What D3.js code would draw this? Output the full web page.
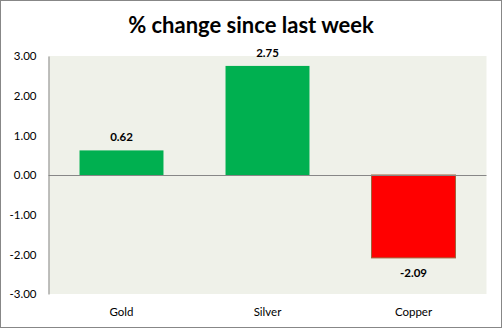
<!DOCTYPE html>
<html>
<head>
<meta charset="utf-8">
<script src="https://cdn.jsdelivr.net/npm/d3@7"></script>
<style>
  html, body { margin: 0; padding: 0; background: #fff; }
  svg { display: block; font-family: Lato, "Open Sans", sans-serif; }
</style>
</head>
<body>
<svg id="chart" width="502" height="328"></svg>
<script>
// Weekly percentage change per metal
const categories = ["Gold", "Silver", "Copper"];
const changes = [0.62, 2.75, -2.09];
const yTicks = [3, 2, 1, 0, -1, -2, -3];
const title = "% change since last week";

const W = 502, H = 328;
const plot = { left: 48.5, right: 486.5, top: 56, bottom: 294 };

// Two decimals with a plain hyphen for negatives
const fmt = d3.formatLocale({ decimal: ".", thousands: ",", grouping: [3], currency: ["", ""], minus: "-" }).format(".2f");

const svg = d3.select("#chart");

// Outer chart frame
svg.append("rect")
  .attr("x", 0.5).attr("y", 0.5)
  .attr("width", W - 1).attr("height", H - 1)
  .attr("fill", "#fff")
  .attr("stroke", "#878787");

// Title
svg.append("text")
  .attr("x", 251).attr("y", 33)
  .attr("text-anchor", "middle")
  .attr("font-size", 22)
  .attr("font-weight", "bold")
  .attr("fill", "#000")
  .text(title);

const x = d3.scaleBand()
  .domain(categories)
  .range([plot.left, plot.right])
  .paddingInner(0.425)
  .paddingOuter(0.2125);

const y = d3.scaleLinear()
  .domain([-3, 3])
  .range([plot.bottom, plot.top]);

// Plot area background
svg.append("rect")
  .attr("x", plot.left).attr("y", plot.top)
  .attr("width", plot.right - plot.left)
  .attr("height", plot.bottom - plot.top)
  .attr("fill", "#EFF1E9");

// Bars
svg.append("g").selectAll("rect")
  .data(categories.map((c, i) => ({ c, v: changes[i] })))
  .join("rect")
  .attr("x", d => x(d.c))
  .attr("width", x.bandwidth())
  .attr("y", d => y(Math.max(0, d.v)))
  .attr("height", d => Math.abs(y(d.v) - y(0)))
  .attr("fill", d => d.v >= 0 ? "#00B050" : "#FF0000")
  .attr("stroke", d => d.v >= 0 ? "none" : "#A0623A")
  .attr("stroke-width", 1);

// Y axis
const yAxis = d3.axisLeft(y)
  .tickValues(yTicks)
  .tickFormat(fmt)
  .tickSize(0)
  .tickPadding(12);

const gy = svg.append("g")
  .attr("transform", `translate(${plot.left},0)`)
  .call(yAxis);
gy.select(".domain").attr("stroke", "#878787");
gy.selectAll("text")
  .attr("font-family", "Lato, sans-serif")
  .attr("font-size", 11.5)
  .attr("fill", "#000");

// Zero baseline
svg.append("line")
  .attr("x1", plot.left).attr("x2", plot.right)
  .attr("y1", y(0) + 0.5).attr("y2", y(0) + 0.5)
  .attr("stroke", "#878787");

// Category labels
const xAxis = d3.axisBottom(x).tickSize(0).tickPadding(0);
const gx = svg.append("g")
  .attr("transform", `translate(0,${plot.bottom})`)
  .call(xAxis);
gx.select(".domain").remove();
gx.selectAll("text")
  .attr("font-family", "Lato, sans-serif")
  .attr("font-size", 11.5)
  .attr("fill", "#000")
  .attr("dy", null)
  .attr("y", 21.5);

// Value labels
svg.append("g").selectAll("text")
  .data(categories.map((c, i) => ({ c, v: changes[i] })))
  .join("text")
  .attr("x", d => x(d.c) + x.bandwidth() / 2)
  .attr("y", d => d.v >= 0 ? y(d.v) - 9 : y(d.v) + 19)
  .attr("text-anchor", "middle")
  .attr("font-size", 11.5)
  .attr("font-weight", "bold")
  .attr("fill", "#000")
  .text(d => fmt(d.v));
</script>
</body>
</html>
